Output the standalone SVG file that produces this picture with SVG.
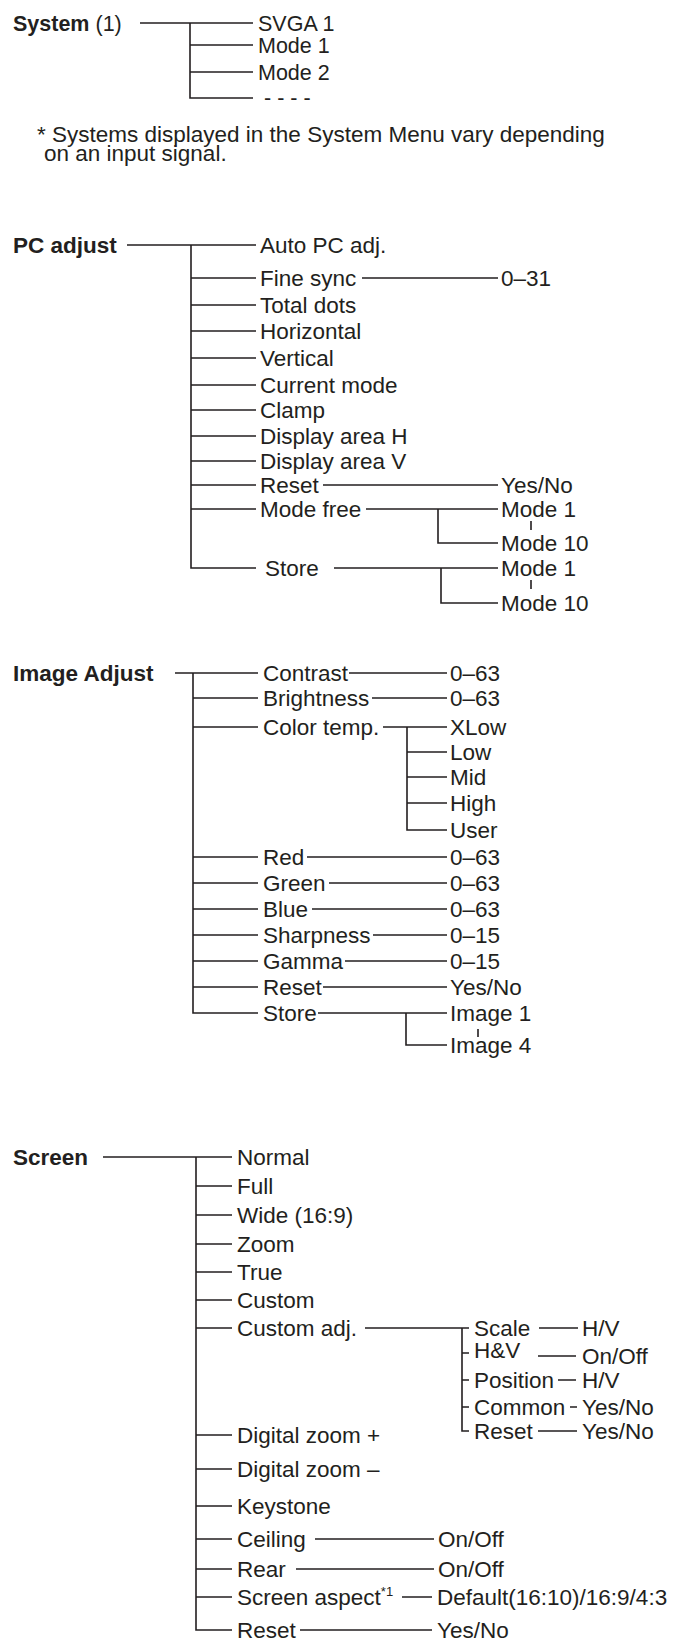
<svg xmlns="http://www.w3.org/2000/svg" width="682" height="1641" viewBox="0 0 682 1641">
<style>
text { font-family: "Liberation Sans", Arial, Helvetica, sans-serif; font-size: 22.5px; fill: #231f20; }
.b { font-weight: bold; }
.s { font-size: 21.5px; }
.sup { font-size: 13px; }
#connectors path { stroke: #231f20; stroke-width: 1.6; fill: none; }
</style>
<rect width="682" height="1641" fill="#ffffff"/>
<g id="connectors">
<path d="M140 23H253M190 23V98H253M190 45H253M190 72H253"/>
<path d="M127 245H256M191 245V568H256M191 278H256M191 305H256M191 331H256M191 358H256M191 385H256M191 410H256M191 436H256M191 461H256M191 485H256M191 509H256"/>
<path d="M362 278H498M323 485H498M366 509H498M438 509V543H498M531 521V530M334 568H498M441 568V603H498M531 580V589"/>
<path d="M175 673H258M193 673V1013H258M193 698H258M193 727H258M193 857H258M193 883H258M193 909H258M193 935H258M193 961H258M193 987H258"/>
<path d="M349 673H447M372 698H447M383 727H447M407 727V830H447M407 752H447M407 777H447M407 803H447M307 857H447M329 883H447M312 909H447M373 935H447M345 961H447M323 987H447M318 1013H447M406 1013V1045H447M478 1029V1037"/>
<path d="M103 1157H232M196 1157V1630H232M196 1186H232M196 1215H232M196 1244H232M196 1272H232M196 1300H232M196 1328H232M196 1435H232M196 1469H232M196 1506H232M196 1539H232M196 1569H232M196 1597H232"/>
<path d="M365 1328H469M462 1328V1431H469M462 1353H469M462 1380H469M462 1407H469M539 1328H578M538 1356H576M558 1380H576M570 1407H577M538 1431H577"/>
<path d="M315 1539H434M296 1569H434M402 1597H432M300 1630H432"/>
</g>
<g id="system"><text x="13" y="31" class="s"><tspan class="b">System</tspan> (1)</text></g>
<g id="sys-svga1"><text x="258" y="31" class="s">SVGA 1</text></g>
<g id="sys-mode1"><text x="258" y="53" class="s">Mode 1</text></g>
<g id="sys-mode2"><text x="258" y="80" class="s">Mode 2</text></g>
<g id="sys-more"><text x="264" y="105" class="s">- - - -</text></g>
<g id="note"><text x="37" y="142">* Systems displayed in the System Menu vary depending</text><text x="44" y="161">on an input signal.</text></g>
<g id="pc-adjust"><text x="13" y="253" class="b">PC adjust</text></g>
<g id="pc-auto"><text x="260" y="253">Auto PC adj.</text></g>
<g id="pc-fine"><text x="260" y="286">Fine sync</text></g>
<g id="pc-fine-v"><text x="501" y="286">0–31</text></g>
<g id="pc-total"><text x="260" y="313">Total dots</text></g>
<g id="pc-horiz"><text x="260" y="339">Horizontal</text></g>
<g id="pc-vert"><text x="260" y="366">Vertical</text></g>
<g id="pc-current"><text x="260" y="393">Current mode</text></g>
<g id="pc-clamp"><text x="260" y="418">Clamp</text></g>
<g id="pc-dah"><text x="260" y="444">Display area H</text></g>
<g id="pc-dav"><text x="260" y="469">Display area V</text></g>
<g id="pc-reset"><text x="260" y="493">Reset</text></g>
<g id="pc-reset-v"><text x="501" y="493">Yes/No</text></g>
<g id="pc-modefree"><text x="260" y="517">Mode free</text></g>
<g id="pc-mf-1"><text x="501" y="517">Mode 1</text></g>
<g id="pc-mf-10"><text x="501" y="551">Mode 10</text></g>
<g id="pc-store"><text x="265" y="576">Store</text></g>
<g id="pc-st-1"><text x="501" y="576">Mode 1</text></g>
<g id="pc-st-10"><text x="501" y="611">Mode 10</text></g>
<g id="image-adjust"><text x="13" y="681" class="b">Image Adjust</text></g>
<g id="ia-contrast"><text x="263" y="681">Contrast</text></g>
<g id="ia-contrast-v"><text x="450" y="681">0–63</text></g>
<g id="ia-bright"><text x="263" y="706">Brightness</text></g>
<g id="ia-bright-v"><text x="450" y="706">0–63</text></g>
<g id="ia-ct"><text x="263" y="735">Color temp.</text></g>
<g id="ia-ct-xlow"><text x="450" y="735">XLow</text></g>
<g id="ia-ct-low"><text x="450" y="760">Low</text></g>
<g id="ia-ct-mid"><text x="450" y="785">Mid</text></g>
<g id="ia-ct-high"><text x="450" y="811">High</text></g>
<g id="ia-ct-user"><text x="450" y="838">User</text></g>
<g id="ia-red"><text x="263" y="865">Red</text></g>
<g id="ia-red-v"><text x="450" y="865">0–63</text></g>
<g id="ia-green"><text x="263" y="891">Green</text></g>
<g id="ia-green-v"><text x="450" y="891">0–63</text></g>
<g id="ia-blue"><text x="263" y="917">Blue</text></g>
<g id="ia-blue-v"><text x="450" y="917">0–63</text></g>
<g id="ia-sharp"><text x="263" y="943">Sharpness</text></g>
<g id="ia-sharp-v"><text x="450" y="943">0–15</text></g>
<g id="ia-gamma"><text x="263" y="969">Gamma</text></g>
<g id="ia-gamma-v"><text x="450" y="969">0–15</text></g>
<g id="ia-reset"><text x="263" y="995">Reset</text></g>
<g id="ia-reset-v"><text x="450" y="995">Yes/No</text></g>
<g id="ia-store"><text x="263" y="1021">Store</text></g>
<g id="ia-store-1"><text x="450" y="1021">Image 1</text></g>
<g id="ia-store-4"><text x="450" y="1053">Image 4</text></g>
<g id="screen"><text x="13" y="1165" class="b">Screen</text></g>
<g id="sc-normal"><text x="237" y="1165">Normal</text></g>
<g id="sc-full"><text x="237" y="1194">Full</text></g>
<g id="sc-wide"><text x="237" y="1223">Wide (16:9)</text></g>
<g id="sc-zoom"><text x="237" y="1252">Zoom</text></g>
<g id="sc-true"><text x="237" y="1280">True</text></g>
<g id="sc-custom"><text x="237" y="1308">Custom</text></g>
<g id="sc-customadj"><text x="237" y="1336">Custom adj.</text></g>
<g id="ca-scale"><text x="474" y="1336">Scale</text></g>
<g id="ca-scale-v"><text x="582" y="1336">H/V</text></g>
<g id="ca-hv"><text x="474" y="1358">H&amp;V</text></g>
<g id="ca-hv-v"><text x="582" y="1364">On/Off</text></g>
<g id="ca-pos"><text x="474" y="1388">Position</text></g>
<g id="ca-pos-v"><text x="582" y="1388">H/V</text></g>
<g id="ca-common"><text x="474" y="1415">Common</text></g>
<g id="ca-common-v"><text x="582" y="1415">Yes/No</text></g>
<g id="ca-reset"><text x="474" y="1439">Reset</text></g>
<g id="ca-reset-v"><text x="582" y="1439">Yes/No</text></g>
<g id="sc-dzp"><text x="237" y="1443">Digital zoom +</text></g>
<g id="sc-dzm"><text x="237" y="1477">Digital zoom –</text></g>
<g id="sc-key"><text x="237" y="1514">Keystone</text></g>
<g id="sc-ceiling"><text x="237" y="1547">Ceiling</text></g>
<g id="sc-ceiling-v"><text x="438" y="1547">On/Off</text></g>
<g id="sc-rear"><text x="237" y="1577">Rear</text></g>
<g id="sc-rear-v"><text x="438" y="1577">On/Off</text></g>
<g id="sc-aspect"><text x="237" y="1605">Screen aspect<tspan class="sup" dy="-9">*1</tspan></text></g>
<g id="sc-aspect-v"><text x="437" y="1605">Default(16:10)/16:9/4:3</text></g>
<g id="sc-reset"><text x="237" y="1638">Reset</text></g>
<g id="sc-reset-v"><text x="437" y="1638">Yes/No</text></g>
</svg>
